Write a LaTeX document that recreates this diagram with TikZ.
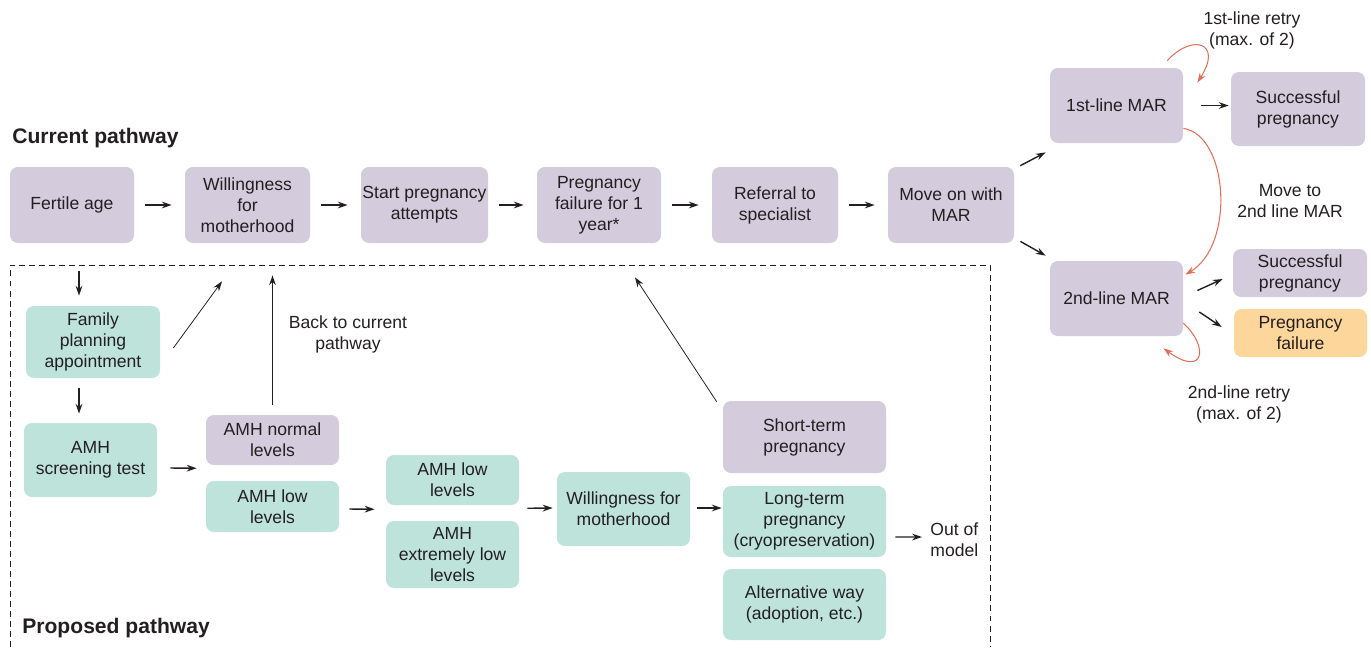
\documentclass[tikz,border=0pt]{standalone}
\usepackage{fontspec}
\setmainfont{Liberation Sans}
\usetikzlibrary{arrows.meta,calc}
\definecolor{purp}{RGB}{212,203,221}
\definecolor{tealb}{RGB}{190,227,219}
\definecolor{orng}{RGB}{253,214,155}
\definecolor{redarc}{RGB}{226,112,88}
\definecolor{txt}{RGB}{35,31,32}
\begin{document}
\begin{tikzpicture}[x=0.02cm,y=-0.02cm,
  box/.style={rounded corners=4.5pt, align=center, inner sep=0pt, text=txt,
    font=\fontsize{10}{11.9}\selectfont},
  pbox/.style={box, fill=purp},
  tbox/.style={box, fill=tealb},
  obox/.style={box, fill=orng},
  wh/.style 2 args={minimum width={#1*0.02cm}, minimum height={#2*0.02cm}},
  lbl/.style={align=center, inner sep=0pt, text=txt, font=\fontsize{10}{11.9}\selectfont},
  head/.style={anchor=west, inner sep=0pt, text=txt, font=\fontsize{12}{14}\selectfont\bfseries},
  flow/.style={draw=txt, line width=0.8pt, -{Stealth[length=5.6pt,width=3.8pt]}},
  thin/.style={draw=txt, line width=0.45pt, -{Stealth[length=5.6pt,width=3.8pt]}},
  redflow/.style={draw=redarc, line width=0.6pt, -{Stealth[length=5.6pt,width=3.8pt]}},
  hshort/.style={shorten <=11*0.02cm, shorten >=13*0.02cm}
]
\useasboundingbox (0,0) rectangle (1371,647);

% headings
\node[head] (cur) at (12,138) {Current pathway};
\node[head] (prop) at (22,628) {Proposed pathway};

% dashed frame
\draw[txt, line width=0.5pt, dash pattern=on 3.4pt off 2.3pt] (10,647) -- (10,265) -- (990,265) -- (990,647);

% current pathway
\node[pbox, wh={124}{76}] (fert) at (72,205) {Fertile age};
\node[pbox, wh={125}{76}] (will) at (247.5,205) {Willingness\\for\\motherhood};
\node[pbox, wh={127}{76}] (start) at (424.5,205) {Start pregnancy\\attempts};
\node[pbox, wh={124}{76}] (fail) at (599,205) {Pregnancy\\failure for 1\\year*};
\node[pbox, wh={126}{76}] (ref) at (775,205) {Referral to\\specialist};
\node[pbox, wh={126}{76}] (move) at (951,205) {Move on with\\MAR};

\node[pbox, wh={133}{75}] (mar1) at (1116.5,105.5) {1st-line MAR};
\node[pbox, wh={134}{74}] (succ1) at (1298,109) {Successful\\pregnancy};
\node[pbox, wh={133}{75}] (mar2) at (1116.5,298.5) {2nd-line MAR};
\node[pbox, wh={134}{48}] (succ2) at (1300,273) {Successful\\pregnancy};
\node[obox, wh={133}{48}] (pf) at (1300.5,333) {Pregnancy\\failure};

\draw[flow, hshort] (fert) -- (will);
\draw[flow, hshort] (will) -- (start);
\draw[flow, hshort] (start) -- (fail);
\draw[flow, hshort] (fail) -- (ref);
\draw[flow, hshort] (ref) -- (move);

\draw[flow] ($(move.north east)+(6,-1)$) -- ($(mar1.south west)+(-4,9)$);
\draw[flow] ($(move.south east)+(6,-2)$) -- ($(mar2.north west)+(-4,-5)$);
\draw[flow, shorten <=18*0.02cm, shorten >=2*0.02cm] (mar1.east) -- (mar1.east -| succ1.west);
\draw[flow] ($(mar2.east)+(14,-8)$) -- ($(succ2.west)+(-10,6)$);
\draw[flow] ($(mar2.east)+(16,13.5)$) -- ($(pf.west)+(-12,-6)$);

% red arcs
\draw[redflow] ($(mar1.north east)+(-16,-7)$) .. controls ($(mar1.north east)+(8,-34)$) and ($(mar1.north east)+(40,-26)$) .. ($(mar1.north east)+(14,15)$);
\draw[redflow] ($(mar1.south east)+(0,-15)$) .. controls ($(mar1.south east)+(45,-8)$) and ($(mar2.north east)+(52,-16)$) .. ($(mar2.north east)+(2,14)$);
\draw[redflow] ($(mar2.south east)+(0,-13)$) .. controls ($(mar2.south east)+(25,9)$) and ($(mar2.south east)+(22,42)$) .. ($(mar2.south east)+(-20,12)$);

\node[lbl] (l1) at (1252,30) {1st-line retry\\(max. of 2)};
\node[lbl] (l2) at (1290,201) {Move to\\2nd line MAR};
\node[lbl] (l3) at (1239,404) {2nd-line retry\\(max. of 2)};

% proposed pathway
\node[tbox, wh={134}{72}] (fam) at (93,342) {Family\\planning\\appointment};
\node[tbox, wh={133}{74}] (amhs) at (90.5,460) {AMH\\screening test};
\node[pbox, wh={133}{50}] (norm) at (272.5,440) {AMH normal\\levels};
\node[tbox, wh={133}{51}] (low1) at (272.5,506.5) {AMH low\\levels};
\node[tbox, wh={133}{50}] (low2) at (452.5,480) {AMH low\\levels};
\node[tbox, wh={133}{67}] (ext) at (452.5,554.5) {AMH\\extremely low\\levels};
\node[tbox, wh={133}{74}] (will2) at (623.5,509) {Willingness for\\motherhood};
\node[pbox, wh={163}{72}] (short) at (804.5,437) {Short-term\\pregnancy};
\node[tbox, wh={163}{71}] (long) at (804.5,521.5) {Long-term\\pregnancy\\(cryopreservation)};
\node[tbox, wh={163}{71}] (alt) at (804.5,604.5) {Alternative way\\(adoption, etc.)};
\node[lbl, anchor=west, align=left] (out) at (930,540) {Out of\\model};
\node[lbl] (back) at (348,334) {Back to current\\pathway};

\draw[flow] ($(fert.south)+(7,28)$) -- ($(fam.north)+(-14,-10)$);
\draw[flow] ($(fam.south)+(-14,10)$) -- ($(amhs.north)+(-11.5,-9)$);
\draw[thin] ($(fam.east)+(13,6)$) -- ($(will.south)+(-25.5,38)$);
\draw[flow, shorten <=10*0.02cm, shorten >=32*0.02cm] (norm.north) -- (norm.north |- will.south);
\draw[flow] ($(amhs.east)+(13,8)$) -- ($(norm.west)!0.5!(low1.west)+(-9,-5)$);
\draw[flow] ($(low1.east)+(10,2.5)$) -- ($(low2.west)!0.5!(ext.west)+(-11,-8)$);
\draw[flow] ($(low2.east)!0.5!(ext.east)+(8,-9)$) -- ($(will2.west)+(-4,-1)$);
\draw[flow] ($(will2.east)+(7,-1)$) -- ($(long.west)+(-1,-13.5)$);
\draw[flow] ($(long.east)+(9,15.5)$) -- ($(out.west)+(-8,-3)$);
\draw[thin] ($(short.north west)+(-6,1)$) -- ($(fail.south)+(36,34)$);
\end{tikzpicture}
\end{document}
